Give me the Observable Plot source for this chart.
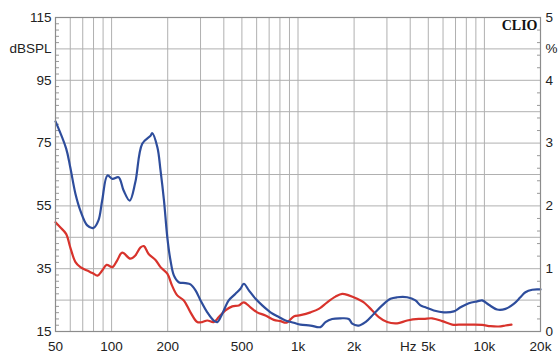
<!DOCTYPE html>
<html>
<head>
<meta charset="utf-8">
<script src="https://cdn.jsdelivr.net/npm/d3@7"></script>
<script src="https://cdn.jsdelivr.net/npm/@observablehq/plot@0.6"></script>
<style>
  html, body { margin: 0; padding: 0; background: #fff; }
  #chart svg { display: block; }
</style>
</head>
<body>
<div id="chart"></div>
<script>
// Blue curve (frequency response, dBSPL)
const blueFreq = [50,57,60,64,68,74,80,85,89,95,101,109,116,125,134,146,162,165,176,183,191,199,207,216,229,249,265,282,300,326,353,369,392,425,462,491,512,545,592,643,712,789,857,949,1031,1167,1320,1404,1525,1690,1873,1953,2120,2302,2550,2829,3135,3406,3853,4268,4540,4830,5350,6060,6855,7440,8250,9145,9730,10560,11700,12970,14370,15600,16600,18050,19570,20000];
const blueDb = [81.9,73.3,67.3,58.8,53.5,48.8,48.0,50.4,56.7,64.7,63.6,64.1,59.9,56.7,62.5,74.8,77.4,78.2,73.7,66.3,56.7,45.0,37.6,32.8,30.7,30.4,30.0,28.1,24.9,21.1,18.5,18.0,20.6,24.9,27.0,28.6,30.2,28.1,25.4,23.3,21.1,19.6,18.5,17.8,17.2,16.9,16.4,18.0,19.0,19.2,19.0,17.5,16.9,18.0,20.6,23.3,25.4,25.9,25.9,24.9,23.3,22.7,21.7,21.1,21.4,22.7,24.0,24.6,24.9,23.5,22.0,22.2,23.8,25.9,27.5,28.3,28.4,28.4];

// Red curve (distortion, drawn on dB scale)
const redFreq = [50,53,57,60,64,68,74,79,84,89,94,101,107,114,126,134,143,149,158,172,183,199,211,225,244,265,288,306,326,353,376,408,444,481,512,556,604,669,742,805,868,949,1031,1167,1293,1434,1589,1726,1873,2077,2254,2501,2714,3010,3406,3853,4446,4730,5245,5940,6715,7600,8600,9730,10790,11950,12970,13975];
const redDb = [49.8,48.2,46.1,41.8,37.1,35.5,34.4,33.6,32.8,34.4,36.2,35.5,37.6,40.1,38.2,39.2,41.8,42.2,39.7,37.8,35.5,33.4,29.6,26.5,24.9,21.1,18.0,18.0,18.5,18.0,19.6,21.7,23.0,23.3,24.3,22.7,21.1,20.1,18.7,18.3,17.8,19.8,20.2,21.1,22.2,24.3,26.1,27.0,26.5,25.4,24.3,21.7,19.6,18.0,17.6,18.5,19.0,19.0,19.2,18.3,17.2,17.2,17.2,17.1,16.7,16.6,16.9,17.2];

// Axes / grid
const xTicks = [50,100,200,500,1000,2000,5000,10000,20000];
const xLabels = ["50","100","200","500","1k","2k","5k","10k","20k"];
const gridFreq = [60,70,80,90,100,200,300,400,500,600,700,800,900,1000,2000,3000,4000,5000,6000,7000,8000,9000,10000];
const gridDb = [25,35,45,55,65,75,85,95,105];
const yTicks = [15,35,55,75,95,115];
const minorLeft = [17,19,21,23,27,29,31,33,37,39,41,43,47,49,51,53,57,59,61,63,67,69,71,73,77,79,81,83,87,89,91,93,97,99,101,103,107,109,111,113];
const pctLabels = [0,1,2,3,4,5];
const minorRight = [19,23,27,31,39,43,47,51,59,63,67,71,79,83,87,91,99,103,107,111];

const blue = blueFreq.map((f, i) => ({f, v: blueDb[i]}));
const red = redFreq.map((f, i) => ({f, v: redDb[i]}));
const pct = pctLabels.map(p => ({p, y: 15 + p * 20}));
const xLab = xTicks.map((f, i) => ({f, t: xLabels[i]}));

const font = "Liberation Sans, Arial, sans-serif";
const textColor = "#222";

const chart = Plot.plot({
  width: 558,
  height: 354,
  marginLeft: 55,
  marginRight: 18,
  marginTop: 17,
  marginBottom: 23,
  style: {fontFamily: font, fontSize: "13.5px", color: textColor, background: "#fff", overflow: "visible"},
  x: {type: "log", domain: [50, 20000], axis: null},
  y: {domain: [15, 115], axis: null},
  marks: [
    Plot.ruleX(gridFreq, {stroke: "#b0b0b0", strokeWidth: 1}),
    Plot.ruleY(gridDb, {stroke: "#b0b0b0", strokeWidth: 1}),
    Plot.axisY(minorLeft, {anchor: "left", tickSize: 4, dx: 4, tickFormat: () => "", label: null, stroke: "#999"}),
    Plot.axisY(minorRight, {anchor: "right", tickSize: 4, dx: -4, tickFormat: () => "", label: null, stroke: "#999"}),
    Plot.line(red, {x: "f", y: "v", stroke: "#d8332c", strokeWidth: 2.2, curve: "catmull-rom"}),
    Plot.line(blue, {x: "f", y: "v", stroke: "#2e4d9c", strokeWidth: 2.2, curve: "catmull-rom"}),
    Plot.frame({stroke: "#8c8c8c", strokeWidth: 1.2}),
    Plot.text(xLab, {x: "f", text: "t", frameAnchor: "bottom", dy: 15, lineAnchor: "middle", fill: textColor}),
    Plot.text(["Hz"], {x: 3900, frameAnchor: "bottom", dy: 15, lineAnchor: "middle", fill: textColor}),
    Plot.axisY(yTicks, {anchor: "left", tickSize: 0, tickPadding: 4, label: null, fill: textColor}),
    Plot.text(["dBSPL"], {x: 50, y: 105, dx: -4, textAnchor: "end", fill: textColor}),
    Plot.text(pct, {x: 20000, y: "y", text: "p", dx: 5, textAnchor: "start", fill: textColor}),
    Plot.text(["%"], {x: 20000, y: 105, dx: 5, textAnchor: "start", fill: textColor}),
    Plot.text(["CLIO"], {x: 20000, y: 115, dx: -3, dy: 8, textAnchor: "end", lineAnchor: "middle", fontFamily: "Liberation Serif, Times New Roman, serif", fontWeight: "bold", fontSize: 14, fill: "#111"})
  ]
});

document.getElementById("chart").appendChild(chart);
</script>
</body>
</html>
